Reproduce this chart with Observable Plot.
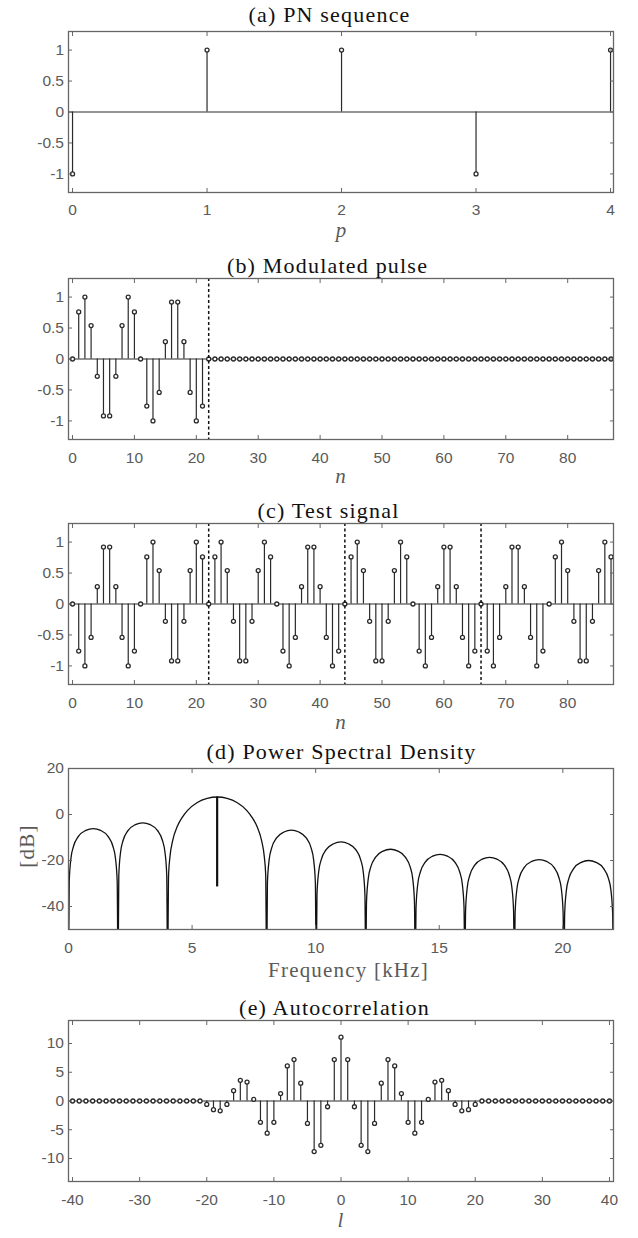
<!DOCTYPE html>
<html><head><meta charset="utf-8">
<script src="https://cdn.jsdelivr.net/npm/d3@7"></script>
<script src="https://cdn.jsdelivr.net/npm/@observablehq/plot@0.6"></script>
<style>
body{margin:0;background:#fff;}
#root{position:relative;width:638px;height:1238px;background:#fff;}
#root > div{position:absolute;left:0;width:638px;}
g[aria-label="text"] text{letter-spacing:1.2px;}
</style></head><body><div id="root"></div>
<script>
// ---------- data ----------
const titles = ["(a) PN sequence", "(b) Modulated pulse", "(c) Test signal", "(d) Power Spectral Density", "(e) Autocorrelation"];
const xLabels = ["p", "n", "n", "Frequency [kHz]", "l"];
const yLabelD = "[dB]";

const pnIndex = [0, 1, 2, 3, 4];
const pnChips = [-1, 1, 1, -1, 1];

const pulseValues = [
  0, 0.76, 1, 0.54, -0.28, -0.92, -0.92, -0.28, 0.54, 1, 0.76,
  0, -0.76, -1, -0.54, 0.28, 0.92, 0.92, 0.28, -0.54, -1, -0.76,
  0, 0, 0, 0, 0, 0, 0, 0, 0, 0, 0, 0, 0, 0, 0, 0, 0, 0, 0, 0, 0, 0,
  0, 0, 0, 0, 0, 0, 0, 0, 0, 0, 0, 0, 0, 0, 0, 0, 0, 0, 0, 0, 0, 0,
  0, 0, 0, 0, 0, 0, 0, 0, 0, 0, 0, 0, 0, 0, 0, 0, 0, 0, 0, 0, 0, 0
];
const testValues = [
  0, -0.76, -1, -0.54, 0.28, 0.92, 0.92, 0.28, -0.54, -1, -0.76,
  0, 0.76, 1, 0.54, -0.28, -0.92, -0.92, -0.28, 0.54, 1, 0.76,
  0, 0.76, 1, 0.54, -0.28, -0.92, -0.92, -0.28, 0.54, 1, 0.76,
  0, -0.76, -1, -0.54, 0.28, 0.92, 0.92, 0.28, -0.54, -1, -0.76,
  0, 0.76, 1, 0.54, -0.28, -0.92, -0.92, -0.28, 0.54, 1, 0.76,
  0, -0.76, -1, -0.54, 0.28, 0.92, 0.92, 0.28, -0.54, -1, -0.76,
  0, -0.76, -1, -0.54, 0.28, 0.92, 0.92, 0.28, -0.54, -1, -0.76,
  0, 0.76, 1, 0.54, -0.28, -0.92, -0.92, -0.28, 0.54, 1, 0.76
];
const pulseBoundaries = [22];
const chipBoundaries = [22, 44, 66];

const psdKHz = [
  0, 0.03, 0.10, 0.20, 0.40, 0.70, 1.00, 1.30, 1.60, 1.80, 1.90, 1.97,
  2.005, 2.035, 2.105, 2.205, 2.405, 2.705, 3.005, 3.305, 3.605, 3.805, 3.905, 3.975,
  4.009, 4.049, 4.109, 4.209, 4.409, 4.610, 4.810, 5.211, 5.612, 6.014, 6.415, 6.815, 7.217, 7.417, 7.618, 7.818, 7.918, 7.978,
  8.018, 8.048, 8.118, 8.218, 8.418, 8.718, 9.018, 9.318, 9.618, 9.818, 9.918, 9.988,
  10.023, 10.053, 10.123, 10.223, 10.423, 10.723, 11.023, 11.323, 11.623, 11.823, 11.923, 11.993,
  12.027, 12.057, 12.127, 12.227, 12.427, 12.727, 13.027, 13.327, 13.627, 13.827, 13.927, 13.997,
  14.032, 14.062, 14.132, 14.232, 14.432, 14.732, 15.032, 15.332, 15.632, 15.832, 15.932, 16.002,
  16.036, 16.066, 16.136, 16.236, 16.436, 16.736, 17.036, 17.336, 17.636, 17.836, 17.936, 18.006,
  18.041, 18.071, 18.141, 18.241, 18.441, 18.741, 19.041, 19.341, 19.641, 19.841, 19.941, 20.011,
  20.045, 20.075, 20.145, 20.245, 20.445, 20.745, 21.045, 21.345, 21.645, 21.845, 21.945, 22.015, 22.05
];
const psdDb = [
  -70, -29.0, -19.0, -13.9, -9.5, -6.9, -6.1, -6.9, -9.5, -13.9, -19.0, -29.0,
  -70, -26.5, -16.5, -11.4, -7.0, -4.4, -3.6, -4.4, -7.0, -11.4, -16.5, -26.5,
  -70, -26.2, -18.0, -11.6, -5.0, -1.1, 1.7, 5.2, 7.0, 7.6, 7.0, 5.2, 1.7, -1.1, -5.0, -11.6, -18.0, -26.2,
  -70, -29.7, -19.7, -14.6, -10.2, -7.6, -6.8, -7.6, -10.2, -14.6, -19.7, -29.7,
  -70, -34.8, -24.8, -19.7, -15.3, -12.7, -11.9, -12.7, -15.3, -19.7, -24.8, -34.8,
  -70, -38.0, -28.0, -22.9, -18.5, -15.9, -15.1, -15.9, -18.5, -22.9, -28.0, -38.0,
  -70, -40.2, -30.2, -25.1, -20.7, -18.1, -17.3, -18.1, -20.7, -25.1, -30.2, -40.2,
  -70, -41.5, -31.5, -26.4, -22.0, -19.4, -18.6, -19.4, -22.0, -26.4, -31.5, -41.5,
  -70, -42.5, -32.5, -27.4, -23.0, -20.4, -19.6, -20.4, -23.0, -27.4, -32.5, -42.5,
  -70, -42.9, -32.9, -27.8, -23.4, -20.8, -20.0, -20.8, -23.4, -27.8, -32.9, -42.9, -70
];
const carrierKHz = [6.014];
const carrierLow = [-31.5];
const carrierHigh = [7.6];

const lagValues = [
  0, 0, 0, 0, 0, 0, 0, 0, 0, 0, 0, 0, 0, 0, 0, 0, 0, 0, 0, 0,
  -0.6, -1.5, -1.7, -0.6, 1.8, 3.6, 3.3, 0.3, -3.7, -5.6, -3.7, 1.3, 6.1, 7.2, 3.1, -3.9, -8.8, -7.7, -1.0, 7.2,
  11.1,
  7.2, -1.0, -7.7, -8.8, -3.9, 3.1, 7.2, 6.1, 1.3, -3.7, -5.6, -3.7, 0.3, 3.3, 3.6, 1.8, -0.6, -1.7, -1.5, -0.6,
  0, 0, 0, 0, 0, 0, 0, 0, 0, 0, 0, 0, 0, 0, 0, 0, 0, 0, 0, 0
];

const ticksA = {x: [0, 1, 2, 3, 4], y: [-1, -0.5, 0, 0.5, 1]};
const ticksN = {x: [0, 10, 20, 30, 40, 50, 60, 70, 80], y: [-1, -0.5, 0, 0.5, 1]};
const ticksD = {x: [0, 5, 10, 15, 20], y: [-40, -20, 0, 20]};
const ticksE = {x: [-40, -30, -20, -10, 0, 10, 20, 30, 40], y: [-10, -5, 0, 5, 10]};

// ---------- helpers ----------
const fmt = d => String(d);
const SERIF = "'Liberation Serif', 'Times New Roman', serif";
const SANS = "'Liberation Sans', Arial, sans-serif";
const AXC = "#666";
const TXT = "#5a5a5a";
const STEM = "#2a2a2a";

function stems(xs, ys) {
  const data = xs.map((x, i) => ({x, y: ys[i]}));
  return [
    Plot.ruleX(data, {x: "x", y1: 0, y2: "y", stroke: STEM, strokeWidth: 1.2}),
    Plot.dot(data, {x: "x", y: "y", r: 2, stroke: STEM, strokeWidth: 1.3, fill: "#fff"})
  ];
}

function panel({top, height, marginTop, marginBottom, xDomain, yDomain, ticks, marks, title, titleDx, titleDy, xlab, xlabDx, xlabDy, xlabItalic, xPad = 12}) {
  const plot = Plot.plot({
    width: 638, height, marginTop, marginBottom, marginLeft: 68, marginRight: 25,
    style: {fontFamily: SANS, fontSize: "15px", color: TXT, background: "transparent", overflow: "visible"},
    x: {domain: xDomain, label: null},
    y: {domain: yDomain, label: null},
    marks: [
      ...marks,
      Plot.axisX(ticks.x, {anchor: "bottom", tickSize: 0, tickPadding: xPad, tickFormat: fmt, label: null,
        fontSize: 15.5, fontFamily: SANS, fill: TXT}),
      Plot.axisY(ticks.y, {anchor: "left", tickSize: 0, tickPadding: 4.5, tickFormat: fmt, label: null,
        fontSize: 15.5, fontFamily: SANS, fill: TXT}),
      Plot.axisX(ticks.x, {anchor: "bottom", tickSize: -4, tickFormat: () => "", label: null, stroke: AXC}),
      Plot.axisX(ticks.x, {anchor: "top", tickSize: -4, tickFormat: () => "", label: null, stroke: AXC}),
      Plot.axisY(ticks.y, {anchor: "left", tickSize: -4, tickFormat: () => "", label: null, stroke: AXC}),
      Plot.axisY(ticks.y, {anchor: "right", tickSize: -4, tickFormat: () => "", label: null, stroke: AXC}),
      Plot.frame({stroke: AXC, strokeWidth: 1.3}),
      Plot.text([title], {text: d => d, frameAnchor: "top", dx: titleDx, dy: titleDy, lineAnchor: "bottom",
        fontFamily: SERIF, fontSize: 22, fill: "#111"}),
      Plot.text([xlab], {text: d => d, frameAnchor: "bottom", dx: xlabDx, dy: xlabDy, lineAnchor: "bottom",
        fontFamily: SERIF, fontSize: 21, fontStyle: xlabItalic ? "italic" : "normal", fill: TXT})
    ]
  });
  const div = document.createElement("div");
  div.style.top = top + "px";
  div.appendChild(plot);
  document.getElementById("root").appendChild(div);
  return plot;
}

// (a)
panel({top: 0, height: 240, marginTop: 31, marginBottom: 48,
  xDomain: [-0.03, 4.022], yDomain: [-1.3, 1.3], ticks: ticksA, xPad: 11,
  marks: [Plot.ruleY([0], {stroke: STEM, strokeWidth: 1}), ...stems(pnIndex, pnChips)],
  title: titles[0], titleDx: -11.5, titleDy: -10, xlab: xLabels[0], xlabDx: 0.5, xlabDy: 44.5, xlabItalic: true});

// (b)
const nIdx = pulseValues.map((v, i) => i);
panel({top: 240, height: 240, marginTop: 38, marginBottom: 41,
  xDomain: [-0.65, 87.4], yDomain: [-1.3, 1.3], ticks: ticksN,
  marks: [Plot.ruleY([0], {stroke: STEM, strokeWidth: 1}), ...stems(nIdx, pulseValues),
    Plot.ruleX(pulseBoundaries, {stroke: "#111", strokeWidth: 1.5, strokeDasharray: "3,2.5"})],
  title: titles[1], titleDx: -13.5, titleDy: -6, xlab: xLabels[1], xlabDx: 0, xlabDy: 43, xlabItalic: true});

// (c)
const tIdx = testValues.map((v, i) => i);
panel({top: 480, height: 240, marginTop: 43, marginBottom: 36,
  xDomain: [-0.65, 87.4], yDomain: [-1.3, 1.3], ticks: ticksN,
  marks: [Plot.ruleY([0], {stroke: STEM, strokeWidth: 1}), ...stems(tIdx, testValues),
    Plot.ruleX(chipBoundaries, {stroke: "#111", strokeWidth: 1.5, strokeDasharray: "3,2.5"})],
  title: titles[2], titleDx: -12.5, titleDy: -5.5, xlab: xLabels[2], xlabDx: 0, xlabDy: 44, xlabItalic: true});

// (d)
const psd = psdKHz.map((f, i) => ({f, db: psdDb[i]}));
const carrier = carrierKHz.map((f, i) => ({f, lo: carrierLow[i], hi: carrierHigh[i]}));
panel({top: 720, height: 265, marginTop: 48, marginBottom: 56,
  xDomain: [0, 22.05], yDomain: [-50, 20], ticks: ticksD,
  marks: [
    Plot.line(psd, {x: "f", y: "db", curve: "monotone-x", stroke: "#111", strokeWidth: 1.3, clip: true}),
    Plot.ruleX(carrier, {x: "f", y1: "lo", y2: "hi", stroke: "#111", strokeWidth: 2.2}),
    Plot.text([yLabelD], {text: d => d, frameAnchor: "left", dx: -41, dy: -3, rotate: -90, textAnchor: "middle",
      fontFamily: SERIF, fontSize: 21, fill: TXT})
  ],
  title: titles[3], titleDx: 0.5, titleDy: -10, xlab: xLabels[3], xlabDx: 7.5, xlabDy: 47.5, xlabItalic: false});

// (e)
const lags = lagValues.map((v, i) => i - 40);
panel({top: 985, height: 253, marginTop: 35, marginBottom: 57,
  xDomain: [-40.6, 40.6], yDomain: [-14, 14], ticks: ticksE,
  marks: [Plot.ruleY([0], {stroke: STEM, strokeWidth: 1}), ...stems(lags, lagValues)],
  title: titles[4], titleDx: -6.5, titleDy: -5.7, xlab: xLabels[4], xlabDx: 0, xlabDy: 45, xlabItalic: true});
</script>
</body></html>
